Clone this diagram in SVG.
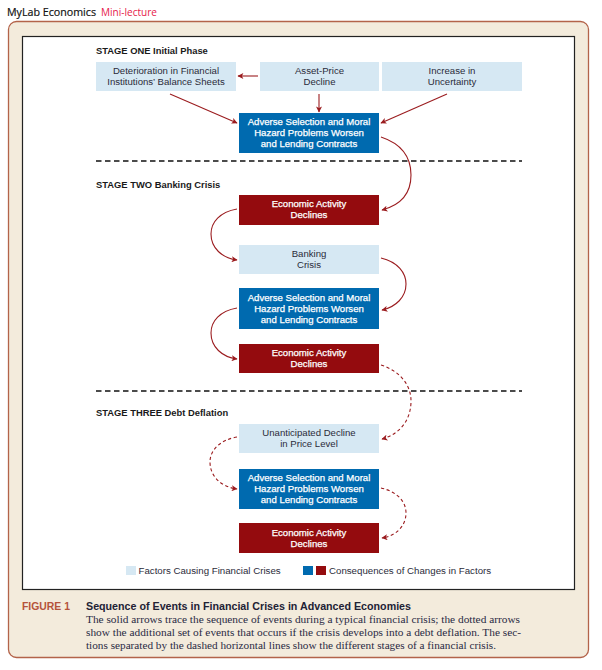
<svg xmlns="http://www.w3.org/2000/svg" width="602" height="670" viewBox="0 0 602 670">
<defs>
<marker id="ah" viewBox="0 0 10 10" refX="9" refY="5" markerWidth="7" markerHeight="6" markerUnits="userSpaceOnUse" orient="auto">
<path d="M0,0 L10,5 L0,10 L2.5,5 Z" fill="#9b1c1f"/>
</marker>
</defs>
<style>
.t{font-family:"Liberation Sans",Arial,sans-serif;font-size:9.6px;text-anchor:middle}
.dk{fill:#2b2b3a}
.wh{fill:#ffffff;stroke:#ffffff;stroke-width:0.25}
.lb{fill:#d6e8f3}
.bl{fill:#006aaf}
.rd{fill:#940b0e}
.st{font-family:"Liberation Sans",Arial,sans-serif;font-size:9.4px;font-weight:bold;fill:#1a1a1a}
.c{fill:none;stroke:#9b1c1f;stroke-width:1.1;marker-end:url(#ah)}
.d{stroke-dasharray:3.2,2.6}
.sep{stroke:#111;stroke-width:1.3;stroke-dasharray:5.5,3.5}
.lg{font-family:"Liberation Sans",Arial,sans-serif;font-size:9.7px;fill:#2b2b3a}
.body{font-family:"Liberation Serif","Times New Roman",serif;font-size:9.6px;fill:#2a2a44}
</style>
<rect width="602" height="670" fill="#ffffff"/>
<text x="7" y="16" font-family="Open Sans,Liberation Sans,sans-serif" font-size="11.5" fill="#111" stroke="#111" stroke-width="0.2" textLength="89" lengthAdjust="spacingAndGlyphs">MyLab Economics</text>
<text x="101" y="16" font-family="Open Sans,Liberation Sans,sans-serif" font-size="10.2" fill="#e6194b" textLength="56" lengthAdjust="spacingAndGlyphs">Mini-lecture</text>
<rect x="8.5" y="21.5" width="580" height="636" rx="8" fill="#f3ebdc" stroke="#b3634a" stroke-width="1.3"/>
<rect x="22.5" y="36.5" width="552" height="553" fill="#ffffff" stroke="#222" stroke-width="1.2"/>

<text class="st" x="96" y="54">STAGE ONE Initial Phase</text>
<text class="st" x="96" y="188">STAGE TWO Banking Crisis</text>
<text class="st" x="96" y="416">STAGE THREE Debt Deflation</text>
<line class="sep" x1="96" y1="161" x2="522" y2="161"/>
<line class="sep" x1="96" y1="391" x2="522" y2="391"/>

<g id="n-deterioration"><rect class="lb" x="96" y="62" width="140" height="29"/><text class="t dk"><tspan x="166" y="74">Deterioration in Financial</tspan><tspan x="166" y="85">Institutions’ Balance Sheets</tspan></text></g>
<g id="n-asset"><rect class="lb" x="260" y="62" width="119" height="29"/><text class="t dk"><tspan x="319.5" y="74">Asset-Price</tspan><tspan x="319.5" y="85">Decline</tspan></text></g>
<g id="n-uncertainty"><rect class="lb" x="382" y="62" width="140" height="29"/><text class="t dk"><tspan x="452" y="74">Increase in</tspan><tspan x="452" y="85">Uncertainty</tspan></text></g>
<g id="n-adverse1"><rect class="bl" x="239" y="113" width="140" height="40"/><text class="t wh"><tspan x="309" y="125">Adverse Selection and Moral</tspan><tspan x="309" y="136">Hazard Problems Worsen</tspan><tspan x="309" y="147">and Lending Contracts</tspan></text></g>

<g id="n-econ1"><rect class="rd" x="239" y="195" width="140" height="30"/><text class="t wh"><tspan x="309" y="207">Economic Activity</tspan><tspan x="309" y="218">Declines</tspan></text></g>
<g id="n-banking"><rect class="lb" x="239" y="245" width="140" height="29"/><text class="t dk"><tspan x="309" y="257">Banking</tspan><tspan x="309" y="268">Crisis</tspan></text></g>
<g id="n-adverse2"><rect class="bl" x="239" y="288" width="140" height="41"/><text class="t wh"><tspan x="309" y="301">Adverse Selection and Moral</tspan><tspan x="309" y="312">Hazard Problems Worsen</tspan><tspan x="309" y="322.5">and Lending Contracts</tspan></text></g>
<g id="n-econ2"><rect class="rd" x="239" y="344" width="140" height="29"/><text class="t wh"><tspan x="309" y="356">Economic Activity</tspan><tspan x="309" y="367">Declines</tspan></text></g>

<g id="n-unanticipated"><rect class="lb" x="239" y="424" width="140" height="29"/><text class="t dk"><tspan x="309" y="436">Unanticipated Decline</tspan><tspan x="309" y="447">in Price Level</tspan></text></g>
<g id="n-adverse3"><rect class="bl" x="239" y="469" width="140" height="40"/><text class="t wh"><tspan x="309" y="481">Adverse Selection and Moral</tspan><tspan x="309" y="492">Hazard Problems Worsen</tspan><tspan x="309" y="502.5">and Lending Contracts</tspan></text></g>
<g id="n-econ3"><rect class="rd" x="239" y="523" width="140" height="30"/><text class="t wh"><tspan x="309" y="536">Economic Activity</tspan><tspan x="309" y="547">Declines</tspan></text></g>

<g id="connectors">
<path class="c" d="M258,76 L238,76"/>
<path class="c" d="M170,94 L237,123"/>
<path class="c" d="M319,94 L319,112"/>
<path class="c" d="M447,94 L381,123"/>
<path class="c" d="M381,137 C402,144 411,158 411,175 C411,193 401,205 382,210"/>
<path class="c" d="M237,209 C220,212 211,222 211,234 C211,248 222,258 237,260"/>
<path class="c" d="M381,258 C398,262 406,273 406,284 C406,297 396,307 382,310"/>
<path class="c" d="M237,308 C220,311 211,321 211,333 C211,347 222,357 237,359"/>
<path class="c d" d="M381,365 C400,371 411,385 411,401 C411,420 400,434 382,439"/>
<path class="c d" d="M237,437 C220,440 210,450 210,462 C210,477 222,487 237,489"/>
<path class="c d" d="M381,488 C398,492 406,502 406,513 C406,526 396,536 382,538"/>
</g>

<g id="legend">
<rect class="lb" x="126" y="566" width="10" height="9"/>
<text class="lg" x="138.5" y="574">Factors Causing Financial Crises</text>
<rect class="bl" x="303" y="566" width="10" height="9"/>
<rect class="rd" x="316" y="566" width="10" height="9"/>
<text class="lg" x="329" y="574">Consequences of Changes in Factors</text>
</g>

<g id="caption">
<text x="22" y="610" font-family="Liberation Sans,Arial,sans-serif" font-size="10.5" font-weight="bold" fill="#b5533a" textLength="48" lengthAdjust="spacingAndGlyphs">FIGURE 1</text>
<text x="86" y="610" font-family="Liberation Sans,Arial,sans-serif" font-size="10.5" font-weight="bold" fill="#222235" textLength="325" lengthAdjust="spacingAndGlyphs">Sequence of Events in Financial Crises in Advanced Economies</text>
<text class="body" x="86" y="623" textLength="434" lengthAdjust="spacingAndGlyphs">The solid arrows trace the sequence of events during a typical financial crisis; the dotted arrows</text>
<text class="body" x="86" y="636" textLength="435" lengthAdjust="spacingAndGlyphs">show the additional set of events that occurs if the crisis develops into a debt deflation. The sec-</text>
<text class="body" x="86" y="649" textLength="410" lengthAdjust="spacingAndGlyphs">tions separated by the dashed horizontal lines show the different stages of a financial crisis.</text>
</g>
</svg>
